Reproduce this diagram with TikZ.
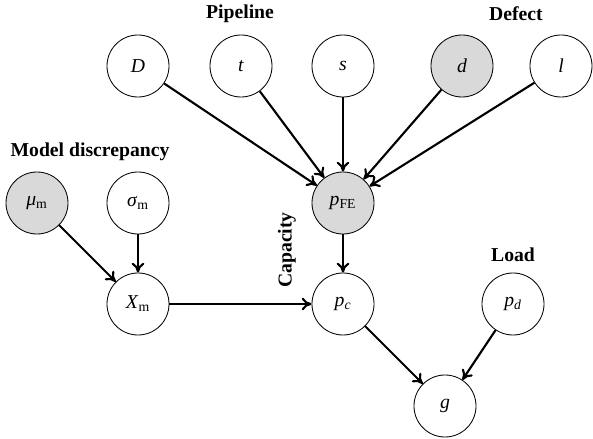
\documentclass[tikz,border=0pt]{standalone}
\usepackage{fontspec}
\setmainfont{Liberation Serif}
\newfontfamily\timesfont{Liberation Serif}
\usetikzlibrary{arrows.meta}
\begin{document}
\begin{tikzpicture}[x=0.025cm, y=-0.025cm, font=\timesfont\fontsize{14}{16}\selectfont,
    var/.style={draw, circle, minimum size=1.55cm, inner sep=0pt, line width=0.6pt, fill=white},
    obs/.style={var, fill=gray!30},
    group/.style={font=\timesfont\fontsize{14}{16}\selectfont\bfseries},
    link/.style={line width=1.5pt, -{To[length=7pt, width=9pt]}}]
    \useasboundingbox (0,0) rectangle (593,439);
    \node[var] (nD) at (138, 66) {\textit{D}};
    \node[var] (nt) at (241, 66) {\textit{t}};
    \node[var] (ns) at (343, 66) {\textit{s}};
    \node[obs] (nd) at (462, 66) {\textit{d}};
    \node[var] (nl) at (561, 66) {\textit{l}};
    \node[obs] (nmu) at (37, 203) {\textit{μ}\textsubscript{m}};
    \node[var] (nsig) at (138, 203) {\textit{σ}\textsubscript{m}};
    \node[obs] (nfe) at (343, 203) {\textit{p}\textsubscript{FE}};
    \node[var] (nxm) at (138, 304) {\textit{X}\textsubscript{m}};
    \node[var] (npc) at (343, 304) {\textit{p}\textsubscript{\textit{c}}};
    \node[var] (npd) at (513, 304) {\textit{p}\textsubscript{\textit{d}}};
    \node[var] (ng) at (445, 406) {\textit{g}};
    \node[group] (lpipe) at (240, 14) {Pipeline};
    \node[group] (ldef) at (516, 14) {Defect};
    \node[group] (lmod) at (90, 152) {Model discrepancy};
    \node[group, rotate=90] (lcap) at (287, 250) {Capacity};
    \node[group] (lload) at (513, 255) {Load};
    \foreach \src in {nD, nt, ns, nd, nl}
        \draw[link] (\src) -- (nfe);
    \draw[link] (nmu) -- (nxm);
    \draw[link] (nsig) -- (nxm);
    \draw[link] (nfe) -- (npc);
    \draw[link] (nxm) -- (npc);
    \draw[link] (npc) -- (ng);
    \draw[link] (npd) -- (ng);
\end{tikzpicture}
\end{document}
